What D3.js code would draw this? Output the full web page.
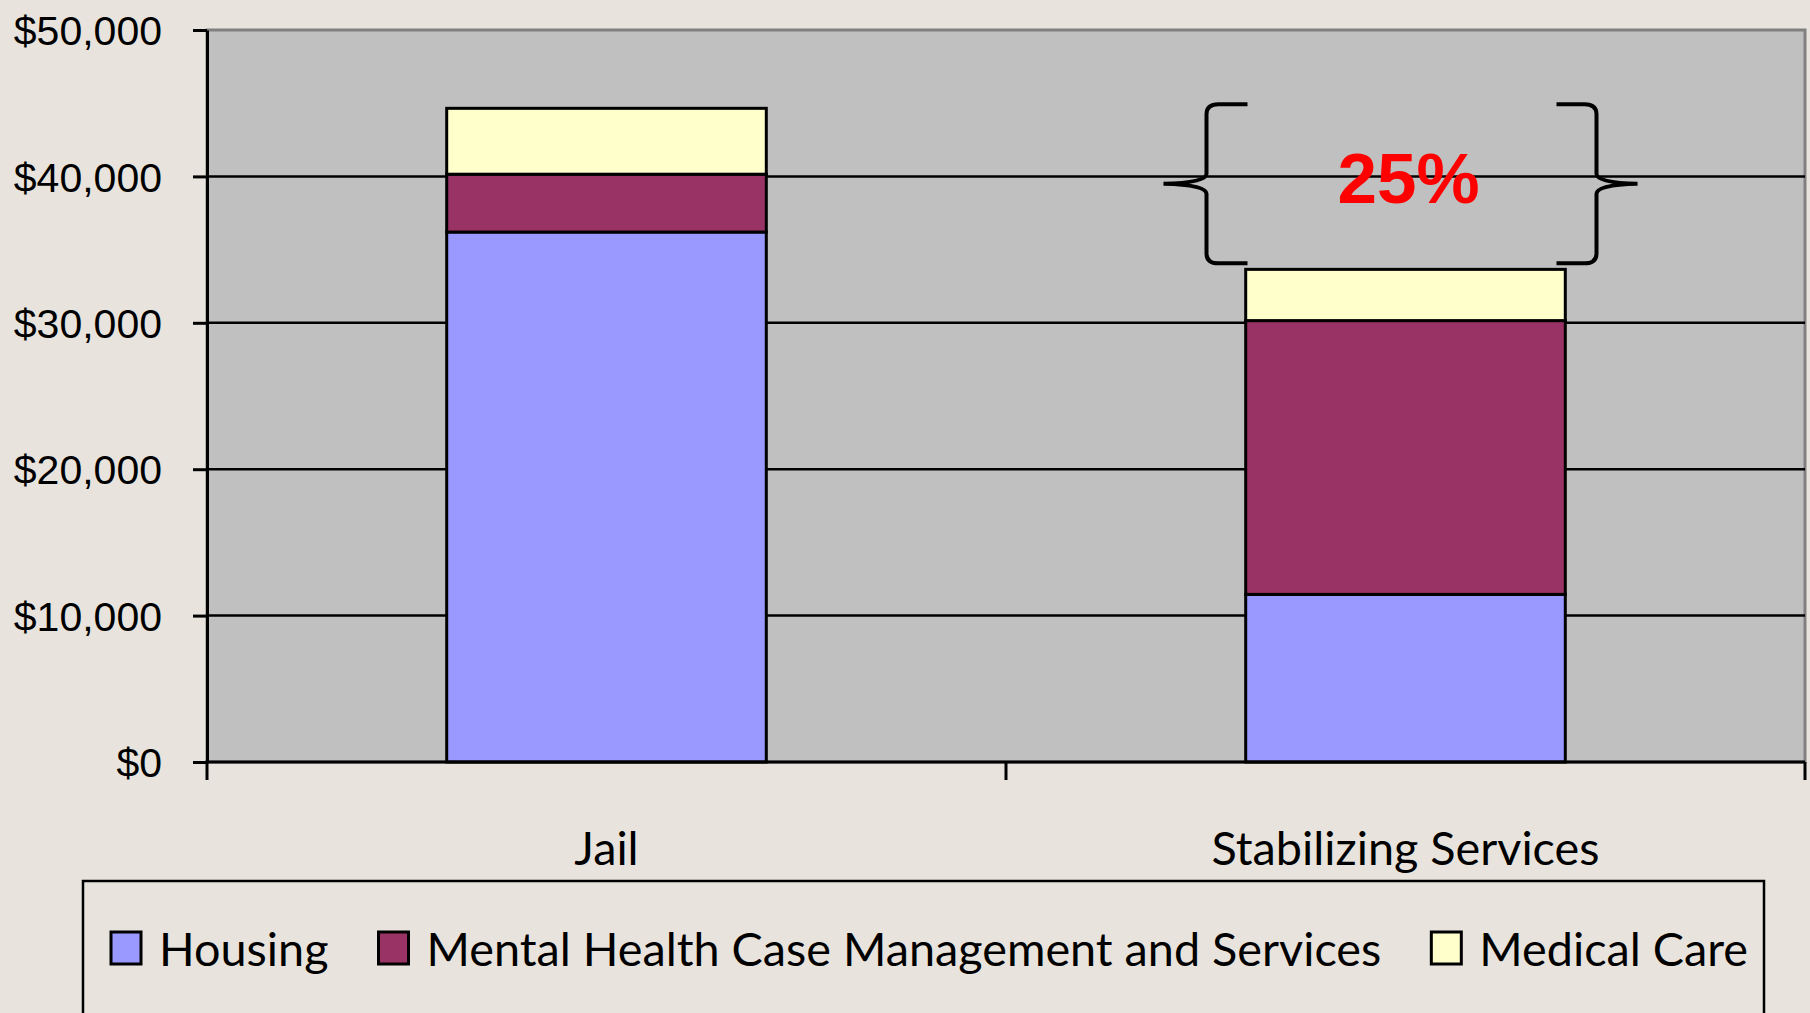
<!DOCTYPE html>
<html lang="en">
<head>
    <meta charset="UTF-8">
    <title>Jail vs Stabilizing Services</title>
    <script src="https://d3js.org/d3.v7.min.js"></script>
    <style>
        body { margin: 0; background: #e8e4dd; overflow: hidden; }
    </style>
</head>
<body>
<script>

    // data
    var categories = ["Jail", "Stabilizing Services"]
    var series = ["Housing", "Mental Health Case Management and Services", "Medical Care"]
    var housing = [36200, 11450]
    var mentalHealth = [3950, 18700]
    var medicalCare = [4500, 3500]
    var yTicks = [0, 10000, 20000, 30000, 40000, 50000]
    var colors = ["#9999ff", "#993366", "#ffffcc"]

    var width = 1810
    var height = 1013
    var m = { left: 207, right: 1805, top: 30, bottom: 762 }

    var rows = categories.map(function (c, i) {
        return { cat: c, "Housing": housing[i], "Mental Health Case Management and Services": mentalHealth[i], "Medical Care": medicalCare[i] }
    })

    var svg = d3.select("body").append("svg")
        .attr("width", width)
        .attr("height", height)

    var x = d3.scaleBand()
        .domain(categories)
        .range([m.left, m.right])
        .paddingInner(0.6)
        .paddingOuter(0.3)

    var y = d3.scaleLinear()
        .domain([0, 50000])
        .range([m.bottom, m.top])

    // plot area
    svg.append("rect")
        .attr("x", m.left)
        .attr("y", m.top)
        .attr("width", m.right - m.left)
        .attr("height", m.bottom - m.top)
        .attr("fill", "#c0c0c0")
        .attr("stroke", "#808080")
        .attr("stroke-width", 3)

    // gridlines
    svg.selectAll(".grid")
        .data(yTicks.filter(function (d) { return d > 0 && d < 50000 }))
        .enter().append("line")
        .attr("x1", m.left)
        .attr("x2", m.right)
        .attr("y1", function (d) { return y(d) })
        .attr("y2", function (d) { return y(d) })
        .attr("stroke", "black")
        .attr("stroke-width", 2.5)

    // stacked bars
    var stacked = d3.stack().keys(series)(rows)
    stacked.forEach(function (s, k) {
        svg.selectAll(".bar" + k)
            .data(s)
            .enter().append("rect")
            .attr("x", function (d) { return x(d.data.cat) })
            .attr("width", x.bandwidth())
            .attr("y", function (d) { return y(d[1]) })
            .attr("height", function (d) { return y(d[0]) - y(d[1]) })
            .attr("fill", colors[k])
            .attr("stroke", "black")
            .attr("stroke-width", 3)
    })

    // y axis
    var yAxis = d3.axisLeft(y)
        .tickValues(yTicks)
        .tickSize(14)
        .tickSizeOuter(0)
        .tickPadding(31)
        .tickFormat(function (d) { return "$" + d3.format(",")(d) })

    var ya = svg.append("g")
        .attr("transform", "translate(" + m.left + ",0)")
        .call(yAxis)
    ya.select(".domain").attr("stroke", "black").attr("stroke-width", 3)
    ya.selectAll(".tick line").attr("stroke", "black").attr("stroke-width", 3)
    ya.selectAll(".tick text")
        .attr("fill", "black")
        .attr("font-family", "'Liberation Sans', Arial, sans-serif")
        .attr("font-size", 41)
        .attr("dy", "0.36em")

    // x axis
    svg.append("line")
        .attr("x1", m.left - 1.5)
        .attr("x2", m.right)
        .attr("y1", m.bottom)
        .attr("y2", m.bottom)
        .attr("stroke", "black")
        .attr("stroke-width", 3)

    var bounds = [m.left]
    categories.forEach(function (c) { bounds.push(x(c) - x.step() * x.paddingInner() / 2 + x.step()) })
    svg.selectAll(".xtick")
        .data(bounds)
        .enter().append("line")
        .attr("x1", function (d) { return d })
        .attr("x2", function (d) { return d })
        .attr("y1", m.bottom)
        .attr("y2", m.bottom + 18)
        .attr("stroke", "black")
        .attr("stroke-width", 3)

    var labelFont = "Lato, 'Open Sans', sans-serif"
    var labelSize = 47

    // legend (measure first so everything fits the legend box)
    var legend = svg.append("g")
    var legTexts = series.map(function (s) {
        return legend.append("text")
            .attr("font-family", labelFont)
            .attr("font-size", labelSize)
            .attr("fill", "black")
            .attr("y", 966)
            .text(s)
    })
    var natural = legTexts.map(function (t) { return t.node().getComputedTextLength() })
    var legStart = 111, legEnd = 1748, sq = 30, sqGap = 48, itemGap = 50
    var k = (legEnd - legStart - series.length * sqGap - (series.length - 1) * itemGap) / d3.sum(natural)

    var cx = legStart
    series.forEach(function (s, i) {
        legend.append("rect")
            .attr("x", cx)
            .attr("y", 932)
            .attr("width", sq)
            .attr("height", 32)
            .attr("fill", colors[i])
            .attr("stroke", "black")
            .attr("stroke-width", 3)
        var w = natural[i] * k
        legTexts[i]
            .attr("x", cx + sqGap)
            .attr("textLength", w)
            .attr("lengthAdjust", "spacingAndGlyphs")
        cx += sqGap + w + itemGap
    })

    svg.append("rect")
        .attr("x", 83)
        .attr("y", 881)
        .attr("width", 1764 - 83)
        .attr("height", 160)
        .attr("fill", "none")
        .attr("stroke", "black")
        .attr("stroke-width", 2.5)

    // category labels
    categories.forEach(function (c) {
        var t = svg.append("text")
            .attr("x", x(c) + x.bandwidth() / 2)
            .attr("y", 865)
            .attr("text-anchor", "middle")
            .attr("font-family", labelFont)
            .attr("font-size", labelSize)
            .attr("fill", "black")
            .text(c)
        t.attr("textLength", t.node().getComputedTextLength() * k)
            .attr("lengthAdjust", "spacingAndGlyphs")
    })

    // brace annotation showing the difference in totals
    var totals = rows.map(function (r, i) { return housing[i] + mentalHealth[i] + medicalCare[i] })
    var yT = y(totals[0]) - 4
    var yB = y(totals[1]) - 6
    var ym = (yT + yB) / 2
    var bc = x(categories[1]) + x.bandwidth() / 2

    function brace(vx, hx, tx) {
        var d = d3.path()
        var s = hx > vx ? 1 : -1
        d.moveTo(hx, yT)
        d.lineTo(vx + s * 12, yT)
        d.quadraticCurveTo(vx, yT, vx, yT + 10)
        d.lineTo(vx, ym - 10)
        d.quadraticCurveTo(vx, ym - 1, tx, ym)
        d.quadraticCurveTo(vx, ym + 1, vx, ym + 10)
        d.lineTo(vx, yB - 10)
        d.quadraticCurveTo(vx, yB, vx + s * 12, yB)
        d.lineTo(hx, yB)
        svg.append("path")
            .attr("d", d.toString())
            .attr("fill", "none")
            .attr("stroke", "black")
            .attr("stroke-width", 4)
    }
    brace(bc - 199, bc - 158, bc - 242)
    brace(bc + 191, bc + 151, bc + 232)

    svg.append("text")
        .attr("x", bc + 3)
        .attr("y", 203)
        .attr("text-anchor", "middle")
        .attr("font-family", "'Liberation Sans', Arial, sans-serif")
        .attr("font-weight", "bold")
        .attr("font-size", 71)
        .attr("fill", "#ff0000")
        .text(Math.round((totals[0] - totals[1]) / totals[0] * 100) + "%")

</script>
</body>
</html>
